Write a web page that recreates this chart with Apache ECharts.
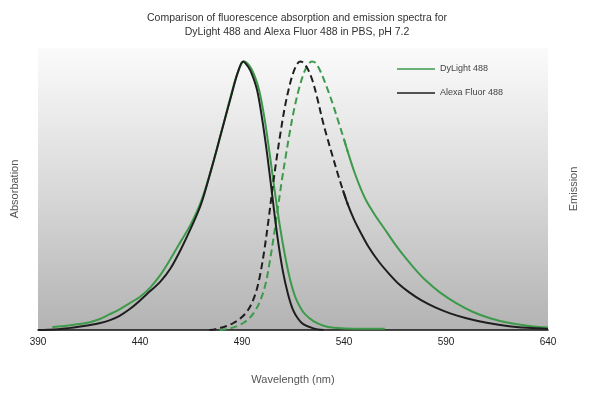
<!DOCTYPE html>
<html>
<head>
<meta charset="utf-8">
<script src="https://cdn.jsdelivr.net/npm/echarts@6/dist/echarts.min.js"></script>
<style>html,body{margin:0;padding:0;background:#fff}#c{width:594px;height:400px}</style>
</head>
<body>
<div id="c"></div>
<script>
// ---- data ----
var tickLabels = [390, 440, 490, 540, 590, 640];

var dyAbsWl = [397, 400, 405, 410, 415, 420, 425, 430, 435, 440, 445, 450, 455, 460, 465, 470, 475, 480, 485, 488, 491, 493.5, 496, 498.5, 501, 503.5, 506, 508.5, 511, 513.5, 516, 518.5, 521, 525, 530, 535, 540, 550, 560];
var dyAbs   = [0.011, 0.013, 0.017, 0.022, 0.028, 0.04, 0.058, 0.077, 0.1, 0.124, 0.158, 0.205, 0.265, 0.33, 0.395, 0.48, 0.6, 0.74, 0.885, 0.96, 1.0, 0.985, 0.95, 0.89, 0.79, 0.66, 0.52, 0.39, 0.28, 0.19, 0.125, 0.085, 0.058, 0.033, 0.016, 0.008, 0.006, 0.005, 0.005];

var alAbsWl = [390, 395, 400, 405, 410, 415, 420, 425, 430, 435, 440, 445, 450, 455, 460, 465, 470, 475, 480, 485, 488, 490.5, 493, 495, 497.5, 500, 502.5, 505, 507.5, 510, 512.5, 515, 517.5, 520, 525, 530];
var alAbs   = [0, 0.001, 0.003, 0.007, 0.012, 0.018, 0.025, 0.036, 0.053, 0.078, 0.11, 0.145, 0.18, 0.23, 0.3, 0.38, 0.47, 0.6, 0.74, 0.88, 0.96, 1.0, 0.98, 0.95, 0.89, 0.78, 0.645, 0.49, 0.34, 0.22, 0.135, 0.075, 0.042, 0.022, 0.006, 0];

var alEmWl = [474, 477, 480, 483, 486, 489, 492, 494.5, 497, 499, 501, 503, 505, 507, 509, 511, 513, 515, 517, 518.5, 520, 522, 524.5, 527, 529.5, 532, 534.5, 537, 539.5, 542, 545, 548, 552, 557, 562, 567, 572, 578, 585, 592, 600, 610, 620, 630, 640];
var alEm   = [0, 0.003, 0.009, 0.016, 0.027, 0.042, 0.064, 0.095, 0.145, 0.21, 0.3, 0.41, 0.53, 0.64, 0.74, 0.83, 0.9, 0.955, 0.99, 1.0, 0.995, 0.975, 0.93, 0.86, 0.78, 0.71, 0.645, 0.58, 0.52, 0.465, 0.41, 0.365, 0.31, 0.255, 0.21, 0.17, 0.14, 0.11, 0.083, 0.062, 0.044, 0.027, 0.015, 0.008, 0.004];

var dyEmWl = [479, 482, 485, 488, 491, 494, 496.5, 499, 501.5, 503.5, 505.5, 507.5, 509.5, 511.5, 513.5, 515.5, 518, 520.5, 522.5, 524.3, 526, 528, 530, 532.5, 535, 537.5, 540, 542, 545, 548, 551, 555, 560, 565, 570, 575, 580, 587, 595, 603, 612, 620, 630, 640];
var dyEm   = [0, 0.003, 0.008, 0.016, 0.028, 0.047, 0.072, 0.11, 0.17, 0.25, 0.345, 0.45, 0.555, 0.65, 0.74, 0.82, 0.9, 0.96, 0.99, 1.0, 0.995, 0.97, 0.935, 0.885, 0.83, 0.77, 0.71, 0.66, 0.59, 0.53, 0.48, 0.43, 0.375, 0.32, 0.27, 0.225, 0.185, 0.14, 0.1, 0.068, 0.043, 0.028, 0.016, 0.009];

// emission curves are drawn dashed up to this wavelength, solid after it
var dashEndWl = 542;
var solidStartWl = 539.5;

var GREEN = '#3d9a4b', BLACK = '#1e1e1e';

function pairs(xs, ys, lo, hi){
  var out = [];
  xs.forEach(function(x,i){ if (x >= lo && x <= hi) out.push([x, ys[i]]); });
  return out;
}
function line(name, color, data, dashed, yIdx){
  return {
    name: name, type: 'line', yAxisIndex: yIdx, smooth: 0.35, showSymbol: false, symbol: 'none',
    data: data, color: color,
    lineStyle: { color: color, width: 2, type: dashed ? [7, 4] : 'solid' },
    emphasis: { disabled: true }
  };
}

var chart = echarts.init(document.getElementById('c'), null, { renderer: 'canvas' });
chart.setOption({
  animation: false,
  backgroundColor: '#ffffff',
  title: {
    text: 'Comparison of fluorescence absorption and emission spectra for\nDyLight 488 and Alexa Fluor 488 in PBS, pH 7.2',
    left: 'center', top: 6,
    textStyle: { fontFamily: 'Liberation Sans, Arial, sans-serif', fontSize: 10.5, fontWeight: 'normal', color: '#333', lineHeight: 14 }
  },
  legend: {
    orient: 'vertical', left: 392, top: 58, itemGap: 12,
    icon: 'rect', itemWidth: 38, itemHeight: 1.5,
    data: ['DyLight 488', 'Alexa Fluor 488'],
    textStyle: { fontFamily: 'Liberation Sans, Arial, sans-serif', fontSize: 9, color: '#444', lineHeight: 12 }
  },
  grid: {
    left: 38, right: 46, top: 48, bottom: 70, show: true, borderWidth: 0,
    backgroundColor: new echarts.graphic.LinearGradient(0, 0, 0, 1, [
      { offset: 0, color: '#fbfbfb' },
      { offset: 0.5, color: '#d9d9d9' },
      { offset: 1, color: '#b3b3b3' }
    ])
  },
  xAxis: {
    type: 'value', min: 390, max: 640,
    name: 'Wavelength (nm)', nameLocation: 'middle', nameGap: 44,
    nameTextStyle: { fontFamily: 'Liberation Sans, Arial, sans-serif', fontSize: 11, color: '#555' },
    axisLine: { show: true, lineStyle: { color: '#111', width: 1.5 } },
    axisTick: { show: false },
    splitLine: { show: false },
    axisLabel: { customValues: tickLabels, margin: 7, fontFamily: 'Liberation Sans, Arial, sans-serif', fontSize: 10, color: '#222' }
  },
  yAxis: [
    { type: 'value', min: 0, max: 1.05, position: 'left',
      name: 'Absorbation', nameLocation: 'middle', nameRotate: 90, nameGap: 18,
      nameTextStyle: { fontFamily: 'Liberation Sans, Arial, sans-serif', fontSize: 11, color: '#555' },
      axisLine: { show: false }, axisTick: { show: false }, axisLabel: { show: false }, splitLine: { show: false } },
    { type: 'value', min: 0, max: 1.05, position: 'right',
      name: 'Emission', nameLocation: 'middle', nameRotate: 90, nameGap: 20,
      nameTextStyle: { fontFamily: 'Liberation Sans, Arial, sans-serif', fontSize: 11, color: '#555' },
      axisLine: { show: false }, axisTick: { show: false }, axisLabel: { show: false }, splitLine: { show: false } }
  ],
  series: [
    line('DyLight 488', GREEN, pairs(dyAbsWl, dyAbs, 0, 1e9), false, 0),
    line('DyLight 488', GREEN, pairs(dyEmWl, dyEm, 0, dashEndWl), true, 1),
    line('DyLight 488', GREEN, pairs(dyEmWl, dyEm, solidStartWl, 1e9), false, 1),
    line('Alexa Fluor 488', BLACK, pairs(alAbsWl, alAbs, 0, 1e9), false, 0),
    line('Alexa Fluor 488', BLACK, pairs(alEmWl, alEm, 0, dashEndWl), true, 1),
    line('Alexa Fluor 488', BLACK, pairs(alEmWl, alEm, solidStartWl, 1e9), false, 1)
  ]
});
</script>
</body>
</html>
